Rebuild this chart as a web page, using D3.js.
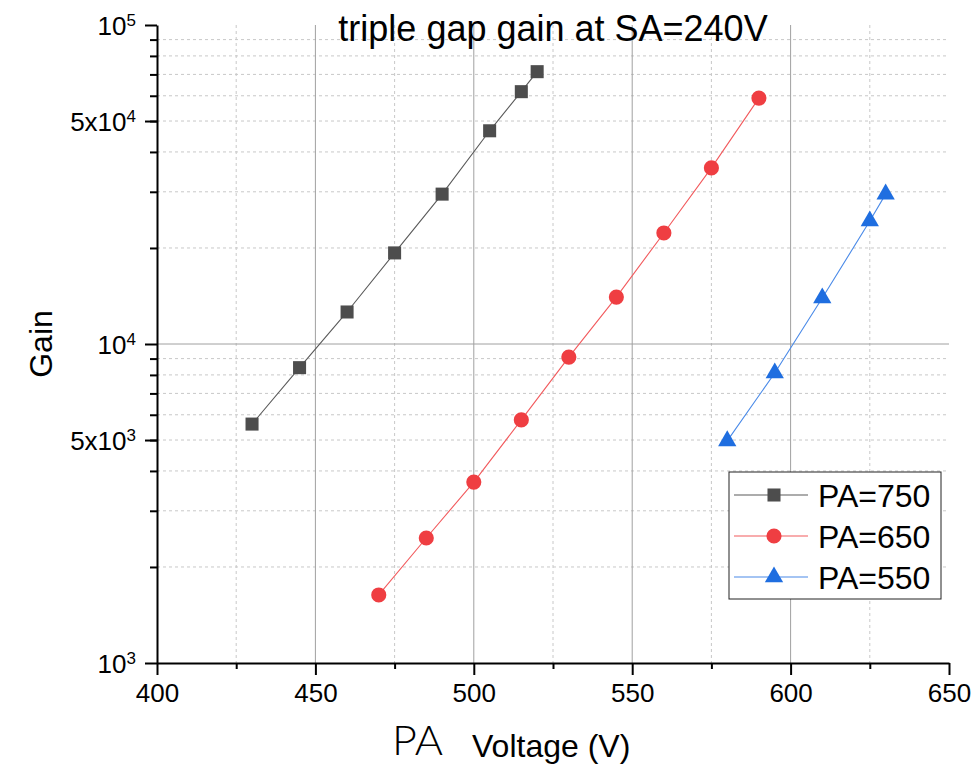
<!DOCTYPE html>
<html lang="en">
<head>
<meta charset="UTF-8">
<title>triple gap gain</title>
<script src="https://d3js.org/d3.v7.min.js"></script>
<style>
  body { margin: 0; background: #fff; }
  text { font-family: "Liberation Sans", Arial, sans-serif; fill: #000; }
  .grid-major { stroke: #a0a0a0; stroke-width: 1px; }
  .grid-minor { stroke: #c8c8c8; stroke-width: 1px; stroke-dasharray: 3,3; }
  .axis path, .axis line { stroke: #000; stroke-width: 2px; }
</style>
</head>
<body>
<div id="chart"></div>
<script>
// data
const pa750x = [430, 445, 460, 475, 490, 505, 515, 520];
const pa750y = [5610, 8430, 12600, 19300, 29500, 46600, 61800, 71400];
const pa650x = [470, 485, 500, 515, 530, 545, 560, 575, 590];
const pa650y = [1634, 2465, 3690, 5780, 9100, 14030, 22290, 35640, 59000];
const pa550x = [580, 595, 610, 625, 630];
const pa550y = [4970, 8110, 13930, 24300, 29500];

const seriesNames = ["PA=750", "PA=650", "PA=550"];
const xTicks = [400, 450, 500, 550, 600, 650];
const xMinor = [425, 475, 525, 575, 625];
const yLabelTicks = [1000, 5000, 10000, 50000, 100000];
const yLabels = [["10", "3"], ["5x10", "3"], ["10", "4"], ["5x10", "4"], ["10", "5"]];

const W = 975, H = 764;
const margin = { top: 25, right: 26, bottom: 101, left: 157 },
      width = W - margin.left - margin.right,
      height = H - margin.top - margin.bottom;

const svg = d3.select("#chart").append("svg")
    .attr("width", W).attr("height", H);
const g = svg.append("g").attr("transform", `translate(${margin.left},${margin.top})`);

const x = d3.scaleLinear().domain([400, 650]).range([0, width]);
const y = d3.scaleLog().domain([1000, 100000]).range([height, 0]);

// minor y values 2..9 x 10^3, 10^4
const yMinor = [];
[1000, 10000].forEach(b => { for (let k = 2; k <= 9; k++) yMinor.push(b * k); });

// grid
g.selectAll(".gy").data(yMinor).enter().append("line")
    .attr("class", "grid-minor")
    .attr("x1", 0).attr("x2", width)
    .attr("y1", d => y(d)).attr("y2", d => y(d));
g.selectAll(".gx").data(xMinor).enter().append("line")
    .attr("class", "grid-minor")
    .attr("x1", d => x(d)).attr("x2", d => x(d))
    .attr("y1", 0).attr("y2", height);
g.append("line").attr("class", "grid-major")
    .attr("x1", 0).attr("x2", width)
    .attr("y1", y(10000)).attr("y2", y(10000));
g.selectAll(".gX").data(xTicks.slice(1, -1)).enter().append("line")
    .attr("class", "grid-major")
    .attr("x1", d => x(d)).attr("x2", d => x(d))
    .attr("y1", 0).attr("y2", height);

// axes
const xAxis = g.append("g").attr("class", "axis")
    .attr("transform", `translate(0,${height})`)
    .call(d3.axisBottom(x).tickValues(xTicks).tickSize(12).tickSizeOuter(0).tickPadding(7));
xAxis.selectAll("text").style("font-size", "26px").attr("dy", "0.75em");
g.append("g").attr("class", "axis")
    .attr("transform", `translate(0,${height})`)
    .call(d3.axisBottom(x).tickValues(xMinor).tickSize(6).tickSizeOuter(0).tickFormat(""))
    .select("path").remove();

g.append("g").attr("class", "axis")
    .call(d3.axisLeft(y).tickValues(yMinor).tickSize(7).tickSizeOuter(0).tickFormat(""))
    .select("path").remove();
const yAxis = g.append("g").attr("class", "axis")
    .call(d3.axisLeft(y).tickValues(yLabelTicks).tickSize(12).tickSizeOuter(0).tickFormat(""));
yAxis.selectAll(".tick").each(function(d, i) {
    const t = d3.select(this).append("text")
        .attr("x", -21).attr("dy", "0.36em")
        .attr("text-anchor", "end")
        .style("font-size", "26px");
    t.append("tspan").text(yLabels[i][0]);
    t.append("tspan").attr("dy", "-0.55em").style("font-size", "17px").text(yLabels[i][1]);
});

// series
const series = [
    { name: seriesNames[0], xs: pa750x, ys: pa750y, color: "#4d4d4d", line: "#5a5a5a", sym: d3.symbolSquare, size: 170 },
    { name: seriesNames[1], xs: pa650x, ys: pa650y, color: "#ef3e42", line: "#f25a5d", sym: d3.symbolCircle, size: 180 },
    { name: seriesNames[2], xs: pa550x, ys: pa550y, color: "#1f6ee0", line: "#4a8ae8", sym: d3.symbolTriangle, size: 145 }
];

const line = d3.line().x(d => x(d[0])).y(d => y(d[1]));
series.forEach(s => {
    const pts = s.xs.map((v, i) => [v, s.ys[i]]);
    g.append("path").attr("d", line(pts))
        .attr("fill", "none").attr("stroke", s.line).attr("stroke-width", 1.1);
    g.selectAll(null).data(pts).enter().append("path")
        .attr("d", d3.symbol().type(s.sym).size(s.size))
        .attr("transform", d => `translate(${x(d[0])},${y(d[1])})`)
        .attr("fill", s.color);
});

// legend
const lg = svg.append("g").attr("transform", "translate(729,472)");
lg.append("rect").attr("width", 212).attr("height", 127)
    .attr("fill", "#fff").attr("stroke", "#222").attr("stroke-width", 1);
series.forEach((s, i) => {
    const yy = 23 + i * 41;
    lg.append("line").attr("x1", 5).attr("x2", 79).attr("y1", yy).attr("y2", yy)
        .attr("stroke", s.line).attr("stroke-width", 1.2);
    lg.append("path").attr("d", d3.symbol().type(s.sym).size(s.size))
        .attr("transform", `translate(45,${yy})`).attr("fill", s.color);
    lg.append("text").attr("x", 89).attr("y", yy).attr("dy", "0.36em")
        .style("font-size", "32px").text(s.name);
});

// titles
svg.append("text").attr("x", margin.left + width / 2).attr("y", 41)
    .attr("text-anchor", "middle").style("font-size", "36px")
    .text("triple gap gain at SA=240V");

svg.append("text")
    .attr("transform", `translate(52,${margin.top + height / 2}) rotate(-90)`)
    .attr("text-anchor", "middle").style("font-size", "32px").text("Gain");

svg.append("text").attr("x", 392).attr("y", 755)
    .attr("textLength", 51).attr("lengthAdjust", "spacingAndGlyphs")
    .style("font-family", "Lato, 'DejaVu Sans', sans-serif").style("font-weight", 300)
    .style("font-size", "42px").text("PA");
svg.append("text").attr("x", 472).attr("y", 757)
    .style("font-size", "32px").text("Voltage (V)");
</script>
</body>
</html>
